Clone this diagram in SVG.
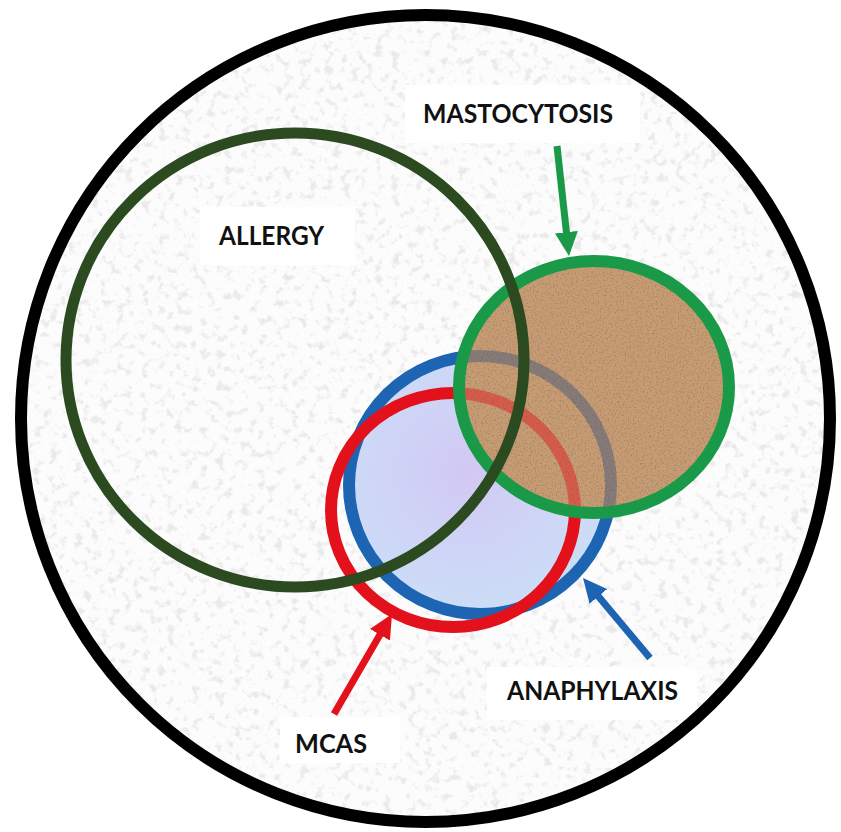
<svg xmlns="http://www.w3.org/2000/svg" xmlns:xlink="http://www.w3.org/1999/xlink" width="841" height="832" viewBox="0 0 841 832">
<style>
.lbl{font-family:Lato,"Open Sans","Liberation Sans",sans-serif;font-weight:700;font-size:26px;fill:#111;}
.box{fill:#ffffff;opacity:0.95;}
.ring{fill:none;}
</style>
<defs>
<clipPath id="outerClip"><ellipse cx="425.5" cy="418.5" rx="404.5" ry="403.5"/></clipPath>
<clipPath id="mastoClip"><ellipse cx="594" cy="387" rx="135" ry="126"/></clipPath>
<filter id="speckle" x="0" y="0" width="100%" height="100%">
<feTurbulence type="fractalNoise" baseFrequency="0.12" numOctaves="3" seed="7"/>
<feColorMatrix type="matrix" values="0 0 0 0 0.55  0 0 0 0 0.55  0 0 0 0 0.55  5 0 0 0 -2.75"/>
</filter>
<filter id="brownTex" x="0" y="0" width="100%" height="100%">
<feTurbulence type="fractalNoise" baseFrequency="0.6" numOctaves="2" seed="3"/>
<feColorMatrix type="matrix" values="0 0 0 0 0.3  0 0 0 0 0.2  0 0 0 0 0.14  4 0 0 0 -2.0"/>
</filter>
<radialGradient id="blueFill" cx="0.45" cy="0.45" r="0.6">
<stop offset="0" stop-color="#d2c8f2"/>
<stop offset="0.5" stop-color="#cfd4f7"/>
<stop offset="1" stop-color="#cadff6"/>
</radialGradient>
<marker id="mkGreen" markerUnits="userSpaceOnUse" viewBox="0 0 24 23" refX="10" refY="11.5" markerWidth="24" markerHeight="23" orient="auto"><path d="M0,0 L24,11.5 L0,23 z" fill="#1a9a48"/></marker>
<marker id="mkRed" markerUnits="userSpaceOnUse" viewBox="0 0 24 23" refX="10" refY="11.5" markerWidth="24" markerHeight="23" orient="auto"><path d="M0,0 L24,11.5 L0,23 z" fill="#e3111b"/></marker>
<marker id="mkBlue" markerUnits="userSpaceOnUse" viewBox="0 0 24 23" refX="10" refY="11.5" markerWidth="24" markerHeight="23" orient="auto"><path d="M0,0 L24,11.5 L0,23 z" fill="#1d64b3"/></marker>
<ellipse id="blueRing" cx="480" cy="485" rx="131" ry="129"/>
<ellipse id="redRing" cx="453" cy="510" rx="122" ry="117"/>
</defs>

<rect width="841" height="832" fill="#ffffff"/>

<g id="background">
<ellipse cx="425.5" cy="418.5" rx="404.5" ry="403.5" fill="#fcfcfc"/>
<g clip-path="url(#outerClip)" opacity="0.32">
<rect x="0" y="0" width="841" height="832" filter="url(#speckle)"/>
</g>
</g>

<g id="anaphylaxis">
<use xlink:href="#blueRing" fill="url(#blueFill)" stroke="#1d64b3" stroke-width="12"/>
</g>

<g id="mcas">
<use xlink:href="#redRing" class="ring" stroke="#e3111b" stroke-width="12"/>
</g>

<g id="mastocytosis">
<ellipse cx="594" cy="387" rx="135" ry="126" fill="#c79c72"/>
<g clip-path="url(#mastoClip)" opacity="0.6">
<rect x="450" y="250" width="290" height="280" filter="url(#brownTex)"/>
</g>
<g clip-path="url(#mastoClip)">
<use xlink:href="#blueRing" fill="none" stroke="#2a4a80" stroke-width="12" opacity="0.4"/>
<use xlink:href="#redRing" fill="none" stroke="#e3111b" stroke-width="12" opacity="0.45"/>
</g>
<ellipse cx="594" cy="387" rx="135" ry="126" class="ring" stroke="#1a9a48" stroke-width="12"/>
</g>

<g id="allergy">
<ellipse cx="295" cy="360" rx="229" ry="227" class="ring" stroke="#2c4a1f" stroke-width="11"/>
</g>

<g id="connectors" stroke-width="7" fill="none">
<line x1="557" y1="146" x2="567.5" y2="242.1" stroke="#1a9a48" marker-end="url(#mkGreen)"/>
<line x1="334" y1="714" x2="385" y2="626.1" stroke="#e3111b" marker-end="url(#mkRed)"/>
<line x1="650" y1="658" x2="592" y2="588.7" stroke="#1d64b3" marker-end="url(#mkBlue)"/>
</g>

<g id="label-allergy">
<rect class="box" x="200" y="207" width="155" height="58"/>
<text class="lbl" x="219" y="245" textLength="105" lengthAdjust="spacingAndGlyphs">ALLERGY</text>
</g>
<g id="label-mastocytosis">
<rect class="box" x="405" y="85" width="235" height="58"/>
<text class="lbl" x="423" y="123" textLength="190" lengthAdjust="spacingAndGlyphs">MASTOCYTOSIS</text>
</g>
<g id="label-anaphylaxis">
<rect class="box" x="487" y="667" width="210" height="53"/>
<text class="lbl" x="507" y="700" textLength="171" lengthAdjust="spacingAndGlyphs">ANAPHYLAXIS</text>
</g>
<g id="label-mcas">
<rect class="box" x="280" y="717" width="120" height="46"/>
<text class="lbl" x="295" y="753" textLength="72" lengthAdjust="spacingAndGlyphs">MCAS</text>
</g>

<g id="outer-ring">
<ellipse cx="425.5" cy="418.5" rx="404.5" ry="403.5" fill="none" stroke="#000" stroke-width="12"/>
</g>
</svg>
